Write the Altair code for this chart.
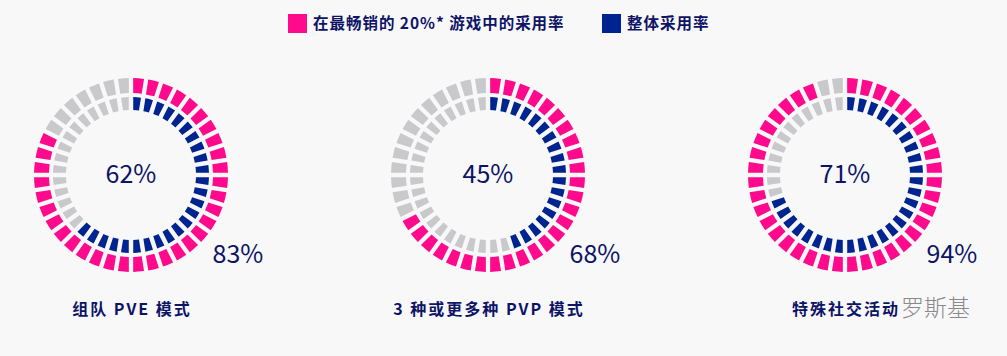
import math
import altair as alt
import pandas as pd

# ---- data ----
modes = ["组队 PVE 模式", "3 种或更多种 PVP 模式", "特殊社交活动"]
top20_rate = [83, 68, 94]      # outer ring: 在最畅销的 20%* 游戏中的采用率
overall_rate = [62, 45, 71]    # inner ring: 整体采用率
series = ["在最畅销的 20%* 游戏中的采用率", "整体采用率"]
rest_label = "未采用"
n_segments = 40

PINK = "#ff0a8c"
NAVY = "#00248f"
GRAY = "#c9c9cc"
TEXT = "#0d1466"
FONT = "Noto Sans CJK SC"


def spaced(s, gap="\u200a\u200a"):
    # emulate letter spacing with hair spaces
    return gap.join(list(s))


rows = []
for m, outer, inner in zip(modes, top20_rate, overall_rate):
    for ring, pct, lab in (("outer", outer, series[0]), ("inner", inner, series[1])):
        filled = round(pct / 100 * n_segments)
        for i in range(n_segments):
            rows.append({"mode": m, "ring": ring, "t0": i, "t1": i + 1,
                         "cat": lab if i < filled else rest_label})
seg = pd.DataFrame(rows)

labels = pd.DataFrame({"mode": modes,
                       "mode_txt": [spaced(m) for m in modes],
                       "inner_txt": [f"{v}%" for v in overall_rate],
                       "outer_txt": [f"{v}%" for v in top20_rate]})

xscale = alt.Scale(type="point", domain=modes, range=[131, 845], padding=0)
X = alt.X("mode:N", scale=xscale, axis=None)
theta_scale = alt.Scale(domain=[0, n_segments], range=[0, 2 * math.pi])
color = alt.Color("cat:N",
                  scale=alt.Scale(domain=series + [rest_label], range=[PINK, NAVY, GRAY]),
                  legend=alt.Legend(values=series, title=None, orient="none",
                                    legendX=288, legendY=14, direction="horizontal",
                                    symbolType="square", symbolSize=361,
                                    symbolStrokeWidth=0, symbolOpacity=1,
                                    labelFont=FONT, labelFontSize=15.5,
                                    labelExpr="replace(datum.label, /(.)/g, '$1\u200a')",
                                    labelFontWeight="bold", labelColor=TEXT,
                                    labelOffset=6, columnPadding=38, padding=0,
                                    labelLimit=400))

base = alt.Chart(seg)

outer_ring = base.transform_filter(alt.datum.ring == "outer").mark_arc(
    radius=97, radius2=82, padAngle=0.034).encode(
    x=X, y=alt.value(175),
    theta=alt.Theta("t0:Q", scale=theta_scale, stack=None), theta2="t1:Q",
    color=color)

inner_ring = base.transform_filter(alt.datum.ring == "inner").mark_arc(
    radius=78, radius2=65, padAngle=0.044).encode(
    x=X, y=alt.value(175),
    theta=alt.Theta("t0:Q", scale=theta_scale, stack=None), theta2="t1:Q",
    color=color)

lab = alt.Chart(labels)
center_txt = lab.mark_text(font=FONT, fontSize=25, color=TEXT, baseline="middle",
                           align="center").encode(x=X, y=alt.value(175), text="inner_txt:N")
outer_txt = lab.mark_text(font=FONT, fontSize=25, color=TEXT, baseline="middle",
                          align="center", dx=107).encode(x=X, y=alt.value(255), text="outer_txt:N")
mode_txt = lab.mark_text(font=FONT, fontSize=16, fontWeight="bold", color=TEXT,
                         baseline="middle", align="center").encode(
    x=X, y=alt.value(310), text="mode_txt:N")

watermark = alt.Chart(pd.DataFrame({"t": ["罗斯基"]})).mark_text(
    font=FONT, fontSize=23, fontWeight=300, color="#8a8a8a", align="left", baseline="middle").encode(
    x=alt.value(901), y=alt.value(309), text="t:N")

chart = alt.layer(outer_ring, inner_ring, center_txt, outer_txt, mode_txt, watermark).properties(
    width=1007, height=356, background="#f8f8f9", padding=0,
    autosize=alt.AutoSizeParams(type="none")
).configure_view(stroke=None)

chart.save("out.html", embed_options={"renderer": "svg", "actions": False})
